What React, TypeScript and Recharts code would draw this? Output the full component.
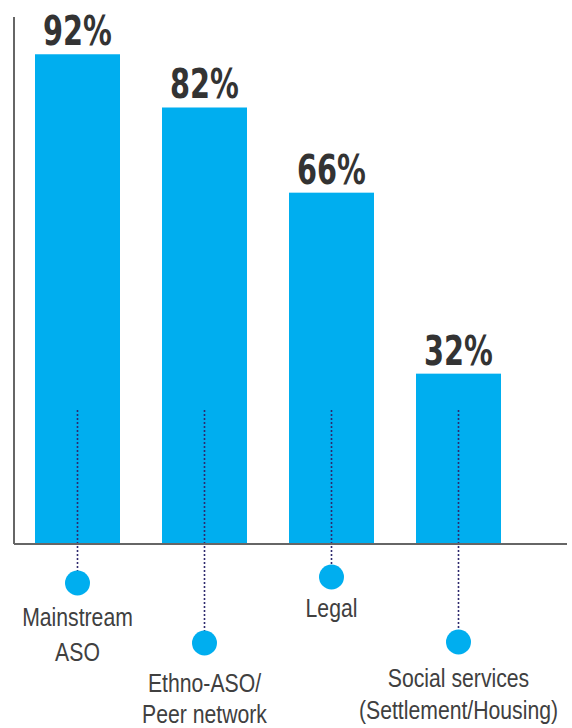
import { BarChart, Bar, XAxis, YAxis, LabelList } from 'recharts';

const categories = ['Mainstream ASO', 'Ethno-ASO/ Peer network', 'Legal', 'Social services (Settlement/Housing)'];
const categoryLines = [
  ['Mainstream', 'ASO'],
  ['Ethno-ASO/', 'Peer network'],
  ['Legal'],
  ['Social services', '(Settlement/Housing)'],
];
const shares = [92, 82, 66, 32];

const chartData = categories.map((name, i) => ({ name, value: shares[i], lines: categoryLines[i] }));

// connector decoration below the axis (pixels)
const dotDrop = [39, 99, 33, 98];
const textDrop = [43, 49, 40, 45];
const lineGap = [35, 30.5, 0, 32];

const BLUE = '#00AEEF';

// narrow text: the condensed fonts of the original are not installed, so squeeze horizontally
const Narrow = ({ x, y, sx, children, ...rest }: any) => (
  <text transform={`translate(${x},${y}) scale(${sx},1)`} x={0} y={0} textAnchor="middle" {...rest}>
    {children}
  </text>
);

const BarWithConnector = (props: any) => {
  const { x, y, width, height, index, payload } = props;
  const base = y + height;
  const cx = x + width / 2;
  const dotY = base + dotDrop[index];
  const firstLine = dotY + textDrop[index];
  return (
    <g>
      <rect x={x} y={y} width={width} height={height} fill={BLUE} />
      <line
        x1={cx}
        x2={cx}
        y1={base - 134}
        y2={dotY - 10}
        stroke="#2e2a6e"
        strokeWidth={1.6}
        strokeDasharray="2 2"
      />
      <circle cx={cx} cy={dotY} r={12.5} fill={BLUE} />
      {payload.lines.map((t: string, k: number) => (
        <Narrow
          key={t}
          x={cx}
          y={firstLine + k * lineGap[index]}
          sx={0.8}
          fontFamily='"Liberation Sans", Arial, sans-serif'
          fontSize={26.5}
          fill="#404040"
        >
          {t}
        </Narrow>
      ))}
    </g>
  );
};

const PercentLabel = (props: any) => {
  const { x, y, width, value } = props;
  return (
    <Narrow
      x={x + width / 2}
      y={y - 9}
      sx={0.78}
      fontFamily='"DejaVu Sans Condensed", "DejaVu Sans", sans-serif'
      fontWeight="bold"
      fontSize={41}
      fill="#333333"
    >
      {value}%
    </Narrow>
  );
};

export default function App() {
  return (
    <div style={{ position: 'absolute', left: 0, top: 0, background: '#fff' }}>
      <BarChart
        width={572}
        height={728}
        data={chartData}
        margin={{ top: 17, right: 5, bottom: 183, left: 13 }}
      >
        <XAxis
          dataKey="name"
          height={1}
          tick={false}
          tickLine={false}
          axisLine={{ stroke: '#666', strokeWidth: 2 }}
          padding={{ left: 0, right: 45 }}
        />
        <YAxis
          width={1}
          domain={[0, 99]}
          tick={false}
          tickLine={false}
          axisLine={{ stroke: '#666', strokeWidth: 2 }}
        />
        <Bar dataKey="value" barSize={85} shape={BarWithConnector} isAnimationActive={false}>
          <LabelList dataKey="value" content={PercentLabel} />
        </Bar>
      </BarChart>
    </div>
  );
}
